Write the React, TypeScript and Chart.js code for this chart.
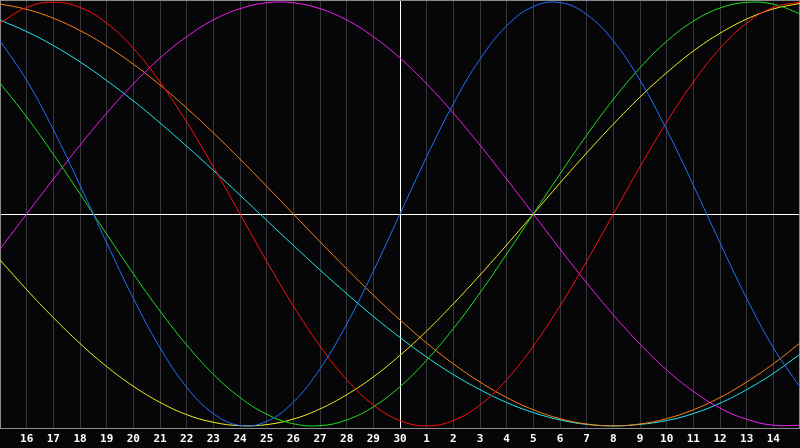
import { useEffect, useRef } from "react"
import { Chart, registerables } from "chart.js"

Chart.register(...registerables)

// days shown along the bottom, 15th to 15th of next month
const days = [
  "15", "16", "17", "18", "19", "20", "21", "22", "23", "24", "25", "26", "27", "28", "29", "30",
  "1", "2", "3", "4", "5", "6", "7", "8", "9", "10", "11", "12", "13", "14", "15",
]

const physical = [
  0.817, 0.631, 0.398, 0.136, -0.136, -0.398, -0.631, -0.817, -0.942, -0.998, -0.979, -0.888, -0.731, -0.52, -0.27, 0,
  0.27, 0.52, 0.731, 0.888, 0.979, 0.998, 0.942, 0.817, 0.631, 0.398, 0.136, -0.136, -0.398, -0.631, -0.817,
]
const emotional = [
  0.901, 0.975, 1.0, 0.975, 0.901, 0.782, 0.623, 0.434, 0.223, 0, -0.223, -0.434, -0.623, -0.782, -0.901, -0.975,
  -1.0, -0.975, -0.901, -0.782, -0.623, -0.434, -0.223, 0, 0.223, 0.434, 0.623, 0.782, 0.901, 0.975, 1.0,
]
const intellectual = [
  0.618, 0.458, 0.282, 0.095, -0.095, -0.282, -0.458, -0.618, -0.756, -0.866, -0.945, -0.99, -0.999, -0.972, -0.91, -0.815,
  -0.69, -0.541, -0.372, -0.189, 0, 0.189, 0.372, 0.541, 0.69, 0.815, 0.91, 0.972, 0.999, 0.99, 0.945,
]
const intuitive = [
  -0.165, 0, 0.165, 0.325, 0.476, 0.614, 0.736, 0.837, 0.916, 0.969, 0.997, 0.997, 0.969, 0.916, 0.837, 0.736,
  0.614, 0.476, 0.325, 0.165, 0, -0.165, -0.325, -0.476, -0.614, -0.736, -0.837, -0.916, -0.969, -0.997, -0.997,
]
const aesthetic = [
  -0.217, -0.357, -0.489, -0.611, -0.72, -0.813, -0.889, -0.947, -0.983, -0.999, -0.994, -0.968, -0.92, -0.853, -0.769, -0.667,
  -0.552, -0.424, -0.288, -0.146, 0, 0.146, 0.288, 0.424, 0.552, 0.667, 0.769, 0.853, 0.92, 0.968, 0.994,
]
const awareness = [
  0.991, 0.966, 0.924, 0.866, 0.793, 0.707, 0.609, 0.5, 0.383, 0.259, 0.131, 0, -0.131, -0.259, -0.383, -0.5,
  -0.609, -0.707, -0.793, -0.866, -0.924, -0.966, -0.991, -1.0, -0.991, -0.966, -0.924, -0.866, -0.793, -0.707, -0.609,
]
const spiritual = [
  0.915, 0.861, 0.795, 0.718, 0.63, 0.534, 0.43, 0.32, 0.206, 0.089, -0.03, -0.148, -0.264, -0.376, -0.483, -0.583,
  -0.675, -0.758, -0.829, -0.89, -0.937, -0.972, -0.993, -1.0, -0.993, -0.975, -0.942, -0.893, -0.829, -0.752, -0.662,
]

const series = [
  { label: "Physical", data: physical, color: "#2070ff" },
  { label: "Emotional", data: emotional, color: "#ff1010" },
  { label: "Intellectual", data: intellectual, color: "#20e020" },
  { label: "Intuitive", data: intuitive, color: "#f020f0" },
  { label: "Aesthetic", data: aesthetic, color: "#f0f020" },
  { label: "Awareness", data: awareness, color: "#ff8010" },
  { label: "Spiritual", data: spiritual, color: "#20e8e8" },
]

const BG = "#060608"
const FRAME = "#8a8a8a"
const GRID = "#36363a"

// black background + grey frame round the plot
const framePlugin = {
  id: "frame",
  beforeDraw(chart: Chart) {
    const { ctx, width, height } = chart
    ctx.save()
    ctx.fillStyle = BG
    ctx.fillRect(0, 0, width, height)
    ctx.restore()
  },
  beforeDatasetsDraw(chart: Chart) {
    const { ctx, chartArea: a } = chart
    ctx.save()
    ctx.strokeStyle = FRAME
    ctx.lineWidth = 1
    ctx.strokeRect(a.left + 0.5, a.top + 0.5, a.right - a.left - 1, a.bottom - a.top)
    ctx.restore()
  },
}

export default function App() {
  const chartRef = useRef<HTMLCanvasElement>(null)
  const chartInstance = useRef<Chart | null>(null)

  useEffect(() => {
    document.body.style.margin = "0"
    if (!chartRef.current) return
    if (chartInstance.current) chartInstance.current.destroy()

    const ctx = chartRef.current.getContext("2d")
    if (!ctx) return

    chartInstance.current = new Chart(ctx, {
      type: "line",
      data: {
        labels: days,
        datasets: series.map((s) => ({
          label: s.label,
          data: s.data,
          borderColor: s.color,
          borderWidth: 1,
          pointRadius: 0,
          pointHoverRadius: 0,
          tension: 0.4,
          fill: false,
        })),
      },
      options: {
        responsive: false,
        animation: false,
        events: [],
        layout: { padding: 0, autoPadding: false },
        plugins: {
          legend: { display: false },
          tooltip: { enabled: false },
        },
        scales: {
          x: {
            offset: false,
            afterFit: (scale: any) => {
              scale.height = 20
              scale.paddingLeft = 0
              scale.paddingRight = 0
            },
            border: { display: false },
            grid: {
              drawTicks: false,
              color: (c: any) => (c.index === 15 ? "#ffffff" : c.index === 0 || c.index === 30 ? "transparent" : GRID),
            },
            ticks: {
              autoSkip: false,
              maxRotation: 0,
              padding: 5,
              color: "#ffffff",
              font: { family: "'DejaVu Sans Mono', monospace", size: 11, weight: "bold" },
              callback: (_v: any, i: number) => (i === 0 || i === days.length - 1 ? "" : days[i]),
            },
          },
          y: {
            min: -1.01,
            max: 1.01,
            afterFit: (scale: any) => {
              scale.width = 0
            },
            border: { display: false },
            grid: {
              drawTicks: false,
              color: (c: any) => (c.tick && c.tick.value === 0 ? "#ffffff" : "transparent"),
            },
            ticks: { display: false, stepSize: 0.5 },
          },
        },
      },
      plugins: [framePlugin],
    })

    return () => {
      if (chartInstance.current) {
        chartInstance.current.destroy()
        chartInstance.current = null
      }
    }
  }, [])

  return (
    <div style={{ width: 800, height: 448 }}>
      <canvas ref={chartRef} width={800} height={448} />
    </div>
  )
}
